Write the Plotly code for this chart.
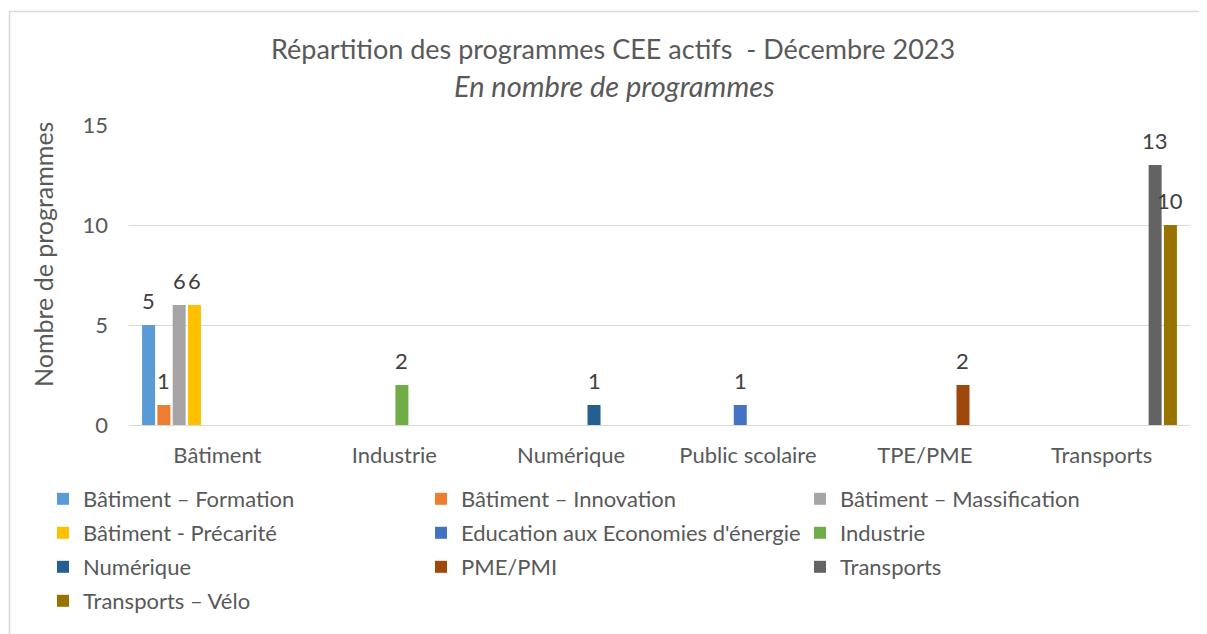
import plotly.graph_objects as go

categories = ["Bâtiment", "Industrie", "Numérique", "Public scolaire", "TPE/PME", "Transports"]

series_names = [
    "Bâtiment – Formation",
    "Bâtiment – Innovation",
    "Bâtiment – Massification",
    "Bâtiment - Précarité",
    "Education aux Economies d'énergie",
    "Industrie",
    "Numérique",
    "PME/PMI",
    "Transports",
    "Transports – Vélo",
]

batiment_formation = [5, None, None, None, None, None]
batiment_innovation = [1, None, None, None, None, None]
batiment_massification = [6, None, None, None, None, None]
batiment_precarite = [6, None, None, None, None, None]
education_energie = [None, None, None, 1, None, None]
industrie = [None, 2, None, None, None, None]
numerique = [None, None, 1, None, None, None]
pme_pmi = [None, None, None, None, 2, None]
transports = [None, None, None, None, None, 13]
transports_velo = [None, None, None, None, None, 10]

series_values = [
    batiment_formation, batiment_innovation, batiment_massification, batiment_precarite,
    education_energie, industrie, numerique, pme_pmi, transports, transports_velo,
]

colors = ["#5B9BD5", "#ED7D31", "#A5A5A5", "#FFC000", "#4472C4",
          "#70AD47", "#255E91", "#9E480E", "#636363", "#997300"]

y_ticks = [0, 5, 10, 15]

FONT = "Lato"
OFF = 8  # page body margin
W, H = 1207 - OFF, 634 - OFF
# plot area in page pixels: x 129..1190, y 125..425
L, T = 129 - OFF, 125 - OFF
R, B = W - (1190 - OFF), H - (425 - OFF)
PW, PH = W - L - R, H - T - B
BARGAP, GROUPGAP = 0.135, 0.15
N_SERIES = len(series_names)

def px_x(px):  # page pixel -> paper x
    return (px - OFF - L) / PW

def px_y(py):  # page pixel -> paper y
    return (T + PH - (py - OFF)) / PH

fig = go.Figure()
# legend laid out in 3 columns (Excel order is row-wise)
legend_ids = ["legend", "legend2", "legend3"]
for i, (name, vals) in enumerate(zip(series_names, series_values)):
    fig.add_trace(go.Bar(
        x=categories, y=vals, name=name,
        marker=dict(color=colors[i], line=dict(width=0)),
        legend=legend_ids[i % 3],
        legendgroup=f"g{i}",
        hoverinfo="x+y+name",
    ))

# data labels above bars
slot_px = (1 - BARGAP) / N_SERIES * PW / len(categories)
for i, vals in enumerate(series_values):
    for cat, v in zip(categories, vals):
        if v is None:
            continue
        fig.add_annotation(
            x=cat, y=v, xref="x", yref="y", text=str(v), showarrow=False,
            xshift=(i - (N_SERIES - 1) / 2) * slot_px, yshift=25,
            xanchor="center", yanchor="middle",
            font=dict(family=FONT, size=22, color="#404040"),
        )

legend_x_px = [35, 413, 792]
legend_common = dict(
    orientation="v", xref="container", yref="container",
    xanchor="left", yanchor="top", y=1 - 470 / H,
    font=dict(family=FONT, size=22, color="#595959"),
    bgcolor="rgba(0,0,0,0)", borderwidth=0,
    tracegroupgap=2.4,
)
layout_legends = {}
for k, lid in enumerate(legend_ids):
    layout_legends[lid] = dict(legend_common, x=legend_x_px[k] / W)

fig.update_layout(
    width=W, height=H,
    margin=dict(l=L, r=R, t=T, b=B, pad=0, autoexpand=False),
    paper_bgcolor="white", plot_bgcolor="white",
    barmode="group", bargap=BARGAP, bargroupgap=GROUPGAP,
    showlegend=True,
    font=dict(family=FONT, color="#595959"),
    **layout_legends,
)

fig.update_xaxes(
    type="category", categoryorder="array", categoryarray=categories,
    showgrid=False, showline=False, ticks="",
    tickfont=dict(family=FONT, size=22, color="#595959"),
    ticklabelstandoff=15,
)
fig.update_yaxes(
    range=[0, 15], tickvals=y_ticks, ticktext=[str(v) for v in y_ticks],
    showgrid=True, gridcolor="#D9D9D9", gridwidth=1,
    zeroline=True, zerolinecolor="#D9D9D9", zerolinewidth=1,
    showline=False, ticks="",
    tickfont=dict(family=FONT, size=22, color="#595959"),
    ticklabelstandoff=20,
)

fig.add_annotation(
    text="Répartition des programmes CEE actifs  - Décembre 2023",
    xref="paper", yref="paper", x=px_x(613), y=px_y(48),
    xanchor="center", yanchor="middle", showarrow=False,
    font=dict(family=FONT, size=27, color="#595959"),
)
fig.add_annotation(
    text="<i>En nombre de programmes</i>",
    xref="paper", yref="paper", x=px_x(614), y=px_y(85),
    xanchor="center", yanchor="middle", showarrow=False,
    font=dict(family=FONT, size=29, color="#595959"),
)
fig.add_annotation(
    text="Nombre de programmes",
    xref="paper", yref="paper", x=px_x(43), y=px_y(255),
    xanchor="center", yanchor="middle", showarrow=False, textangle=-90,
    font=dict(family=FONT, size=25, color="#595959"),
)

fig.add_shape(
    type="rect", xref="paper", yref="paper",
    x0=px_x(9.5), x1=px_x(1225), y0=px_y(11.5), y1=px_y(660),
    line=dict(color="#D9D9D9", width=1.5), fillcolor="rgba(0,0,0,0)",
    layer="above",
)

fig.write_html("out.html")
